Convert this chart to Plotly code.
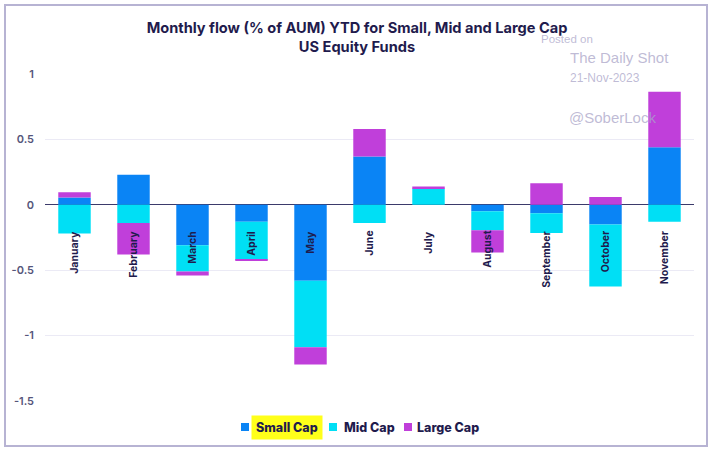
import plotly.graph_objects as go

months = ["January", "February", "March", "April", "May", "June", "July",
          "August", "September", "October", "November"]
small_cap = [0.055, 0.23, -0.31, -0.13, -0.58, 0.37, 0.0, -0.05, -0.065, -0.15, 0.44]
mid_cap = [-0.22, -0.14, -0.20, -0.29, -0.51, -0.14, 0.125, -0.145, -0.15, -0.475, -0.13]
large_cap = [0.04, -0.24, -0.03, -0.01, -0.13, 0.21, 0.015, -0.17, 0.165, 0.06, 0.425]

y_tickvals = [-1.5, -1, -0.5, 0, 0.5, 1]
y_ticktext = ["-1.5", "-1", "-0.5", "0", "0.5", "1"]

series_names = ["Small Cap", "Mid Cap", "Large Cap"]
colors = ["#0a84f5", "#00dff5", "#c03fda"]

W, H = 714, 450
L, R, T, B = 45, 20, 74, 49
PW, PH = W - L - R, H - T - B


def px(x):
    return (x - L) / PW


def py(y):
    return (H - B - y) / PH


FONT = "Inter"
NAVY = "#1f1b4d"

fig = go.Figure()
for name, vals, col in zip(series_names, [small_cap, mid_cap, large_cap], colors):
    fig.add_trace(go.Bar(x=months, y=vals, name=name, marker_color=col,
                         marker_line_width=0, showlegend=False))

annotations = []
# month labels under the zero line
for m in months:
    annotations.append(dict(x=m, y=0, xref="x", yref="y", text=m, showarrow=False,
                            textangle=-90, yanchor="top", xanchor="center", yshift=-24,
                            font=dict(family=FONT, size=10.5, color=NAVY, weight=700)))

# watermark
wm = "rgba(170,165,200,0.75)"
annotations += [
    dict(x=px(539), y=py(39), text="Posted on", xanchor="left", yanchor="middle",
         font=dict(family="Liberation Sans", size=11.5, color=wm)),
    dict(x=px(568), y=py(58), text="The Daily Shot", xanchor="left", yanchor="middle",
         font=dict(family="Liberation Sans", size=15, color=wm)),
    dict(x=px(568), y=py(78), text="21-Nov-2023", xanchor="left", yanchor="middle",
         font=dict(family="Liberation Sans", size=12, color=wm)),
    dict(x=px(567), y=py(117), text="@SoberLock", xanchor="left", yanchor="middle",
         font=dict(family="Liberation Sans", size=15, color=wm)),
]

# manual legend
legend_items = [(245, 255, series_names[0], colors[0], "#ffff1a"),
                (333, 342, series_names[1], colors[1], None),
                (408, 415, series_names[2], colors[2], None)]
shapes = []
for sx, tx, name, col, bg in legend_items:
    shapes.append(dict(type="rect", xref="paper", yref="paper",
                       x0=px(sx - 4), x1=px(sx + 4), y0=py(431), y1=py(423),
                       fillcolor=col, line_width=0))
    a = dict(x=px(tx), y=py(427), text=name, xanchor="left", yanchor="middle",
             font=dict(family=FONT, size=12.5, color=NAVY, weight=800))
    if bg:
        a.update(bgcolor=bg, borderpad=4, x=px(tx - 4))
    annotations.append(a)

for a in annotations:
    a.setdefault("showarrow", False)
    a.setdefault("xref", "paper")
    a.setdefault("yref", "paper")

# outer frame
shapes.append(dict(type="rect", xref="paper", yref="paper",
                   x0=px(5), x1=px(707), y0=py(446), y1=py(5),
                   line=dict(color="#b7b3d3", width=2), fillcolor="rgba(0,0,0,0)"))

fig.update_layout(
    width=W, height=H,
    margin=dict(l=L, r=R, t=T, b=B),
    paper_bgcolor="white", plot_bgcolor="white",
    barmode="relative", bargap=0.45,
    title=dict(text="Monthly flow (% of AUM) YTD for Small, Mid and Large Cap<br>US Equity Funds",
               x=0.5, xanchor="center", xref="container", y=1 - 33 / H, yanchor="middle",
               yref="container",
               font=dict(family=FONT, size=14.6, color=NAVY, weight=700)),
    xaxis=dict(range=[-0.5, len(months) - 0.5], showticklabels=False, showgrid=False,
               zeroline=False, showline=False, fixedrange=True),
    yaxis=dict(range=[-1.5, 1], tickvals=y_tickvals, ticktext=y_ticktext,
               gridcolor="#ebeaf5", gridwidth=1, zeroline=True, zerolinecolor="#3b3a6b",
               zerolinewidth=1, showline=False, ticks="", ticklabelstandoff=10,
               tickfont=dict(family=FONT, size=11, color="#55557a", weight=600)),
    annotations=annotations,
    shapes=shapes,
    showlegend=False,
)

fig.write_html("out.html", config={"displayModeBar": False},
               post_script="document.body.style.margin='0';document.body.style.overflow='hidden';")
